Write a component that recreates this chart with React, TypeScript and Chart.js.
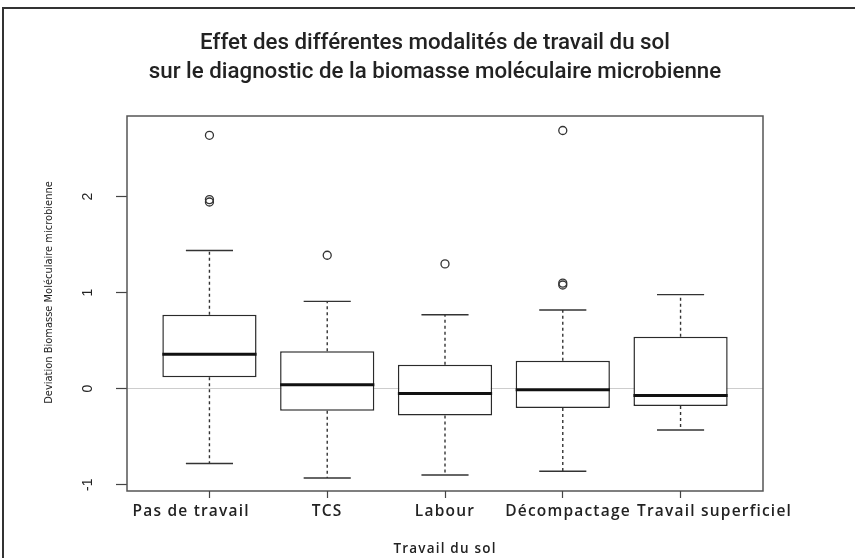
import React, { useEffect, useRef } from 'react';
import { Chart, registerables } from 'chart.js';

Chart.register(...registerables);

// ---- data ----
const categories = ['Pas de travail', 'TCS', 'Labour', 'Décompactage', 'Travail superficiel'];
const whiskerLow = [-0.78, -0.93, -0.9, -0.86, -0.43];
const q1 = [0.12, -0.23, -0.28, -0.2, -0.18];
const median = [0.36, 0.04, -0.05, -0.01, -0.07];
const q3 = [0.77, 0.39, 0.25, 0.29, 0.54];
const whiskerHigh = [1.44, 0.91, 0.77, 0.82, 0.98];
const outlierGroup = [1, 1, 1, 2, 3, 4, 4, 4];
const outlierValue = [2.64, 1.97, 1.945, 1.39, 1.3, 2.69, 1.1, 1.08];
const yTicks = [-1, 0, 1, 2];
const titleLines = [
  'Effet des différentes modalités de travail du sol',
  'sur le diagnostic de la biomasse moléculaire microbienne',
];
const xTitle = 'Travail du sol';
const yTitle = 'Deviation Biomasse Moléculaire microbienne';

// label nudges (spaces): negative = trailing, positive = leading
const labelNudge = [-7, 0, 0, 2, 13];
const yTitleNudge = 7;

const Y_MIN = -1.066;
const Y_MAX = 2.841;
const X_MIN = 0.3;
const X_MAX = 5.7;

const frameAndSpacing = {
  id: 'frameAndSpacing',
  afterDatasetsDraw(chart: any) {
    const ctx = chart.ctx;
    const a = chart.chartArea;
    ctx.save();
    ctx.strokeStyle = '#555';
    ctx.lineWidth = 1.5;
    ctx.strokeRect(a.left, a.top, a.right - a.left, a.bottom - a.top);
    ctx.restore();
    ctx.letterSpacing = '1.2px';
  },
  afterDraw(chart: any) {
    chart.ctx.letterSpacing = '0px';
  },
};

export default function App() {
  const ref = useRef<HTMLCanvasElement | null>(null);

  useEffect(() => {
    if (!ref.current) return;
    const halfWidth = (units: number) => (c: any) => {
      const s = c.chart.scales.x;
      return Math.abs(s.getPixelForValue(1 + units) - s.getPixelForValue(1));
    };

    const whiskerData: any[] = [];
    categories.forEach((_, i) => {
      whiskerData.push({ x: i + 1, y: q3[i] }, { x: i + 1, y: whiskerHigh[i] }, { x: i + 1, y: null });
      whiskerData.push({ x: i + 1, y: q1[i] }, { x: i + 1, y: whiskerLow[i] }, { x: i + 1, y: null });
    });
    const capData: any[] = [];
    categories.forEach((_, i) => {
      capData.push({ x: i + 1, y: whiskerHigh[i] }, { x: i + 1, y: whiskerLow[i] });
    });

    const chart = new Chart(ref.current, {
      type: 'bar',
      data: {
        datasets: [
          {
            type: 'bar',
            data: categories.map((_, i) => ({ x: i + 1, y: [q1[i], q3[i]] })) as any,
            backgroundColor: '#ffffff',
            borderColor: '#2a2a2a',
            borderWidth: 1.5,
            borderSkipped: false,
            barPercentage: 0.8,
            categoryPercentage: 1,
            grouped: false,
            order: 5,
          } as any,
          {
            type: 'line',
            data: whiskerData,
            borderColor: '#333',
            borderWidth: 1.4,
            borderDash: [3, 3],
            pointRadius: 0,
            spanGaps: false,
            order: 4,
          } as any,
          {
            type: 'scatter',
            data: capData,
            pointStyle: 'line',
            pointRadius: halfWidth(0.2),
            pointBorderWidth: 1.4,
            pointBorderColor: '#333',
            order: 3,
          } as any,
          {
            type: 'scatter',
            data: categories.map((_, i) => ({ x: i + 1, y: median[i] })),
            pointStyle: 'line',
            pointRadius: halfWidth(0.4),
            pointBorderWidth: 3,
            pointBorderColor: '#111',
            order: 2,
          } as any,
          {
            type: 'scatter',
            data: outlierValue.map((v, i) => ({ x: outlierGroup[i], y: v })),
            pointStyle: 'circle',
            pointRadius: 4,
            pointBorderWidth: 1.3,
            pointBorderColor: '#333',
            pointBackgroundColor: 'rgba(255,255,255,0)',
            order: 1,
          } as any,
        ],
      },
      options: {
        responsive: false,
        animation: false,
        devicePixelRatio: 1,
        events: [],
        layout: { padding: { left: 15, right: 0, top: 0, bottom: 0 } },
        plugins: {
          legend: { display: false },
          tooltip: { enabled: false },
          title: {
            display: true,
            text: titleLines,
            color: '#222',
            font: { family: 'Roboto', weight: 500 as any, size: 22.3, lineHeight: '29.5px' as any },
            padding: { top: 28.25, bottom: 28.75 },
          },
        },
        scales: {
          x: {
            type: 'linear',
            min: X_MIN,
            max: X_MAX,
            offset: false,
            afterBuildTicks: (s: any) => {
              s.ticks = categories.map((_, i) => ({ value: i + 1 }));
            },
            afterFit: (s: any) => {
              s.height = 67;
            },
            ticks: {
              z: 1,
              autoSkip: false,
              minRotation: 0,
              maxRotation: 0,
              padding: 4,
              color: '#222',
              font: { family: 'Open Sans', size: 15.5, weight: 600 as any },
              callback: (v: any) => {
                const i = Math.round(Number(v)) - 1;
                const n = labelNudge[i] || 0;
                const t = categories[i] ?? '';
                return n > 0 ? ' '.repeat(n) + t : t + ' '.repeat(-n);
              },
            },
            grid: {
              z: 1,
              drawOnChartArea: false,
              drawTicks: true,
              tickLength: 7,
              tickColor: '#444',
              tickWidth: 1.2,
              offset: false,
            },
            border: { display: false },
            title: {
              display: true,
              text: xTitle,
              color: '#222',
              font: { family: 'Open Sans', size: 13.5, weight: 600 as any },
              padding: { top: 0, bottom: 1 },
            },
          },
          y: {
            type: 'linear',
            position: 'left',
            min: Y_MIN,
            max: Y_MAX,
            afterBuildTicks: (s: any) => {
              s.ticks = yTicks.map((v) => ({ value: v }));
            },
            afterFit: (s: any) => {
              s.width = 112;
            },
            ticks: {
              minRotation: 90,
              maxRotation: 90,
              crossAlign: 'center',
              padding: 21.7,
              color: '#222',
              font: { family: 'Liberation Sans', size: 14 },
            },
            grid: {
              drawOnChartArea: true,
              drawTicks: true,
              tickLength: 11,
              tickColor: '#444',
              tickWidth: 1.2,
              lineWidth: 1,
              color: (c: any) => (c.tick && c.tick.value === 0 ? '#cdcdcd' : 'rgba(0,0,0,0)'),
            },
            border: { display: false },
            title: {
              display: true,
              text: ' '.repeat(yTitleNudge) + yTitle,
              color: '#222',
              font: { family: "'DejaVu Sans Condensed', 'Liberation Sans', sans-serif", size: 11 },
              padding: { top: 28, bottom: 0 },
            },
          },
          y2: {
            type: 'linear',
            position: 'right',
            display: true,
            min: Y_MIN,
            max: Y_MAX,
            afterFit: (s: any) => {
              s.width = 92;
            },
            ticks: { display: false },
            grid: { display: false, drawTicks: false },
            border: { display: false },
          },
        },
      } as any,
      plugins: [frameAndSpacing],
    });
    return () => chart.destroy();
  }, []);

  return (
    <div style={{ position: 'fixed', left: 0, top: 0, width: 855, height: 558, background: '#fff' }}>
      <div
        style={{
          position: 'absolute',
          left: 2,
          top: 7,
          width: 853,
          height: 551,
          borderTop: '2px solid #333',
          borderLeft: '2px solid #333',
          boxSizing: 'border-box',
        }}
      />
      <canvas ref={ref} width={855} height={558} style={{ position: 'absolute', left: 0, top: 0 }} />
    </div>
  );
}
